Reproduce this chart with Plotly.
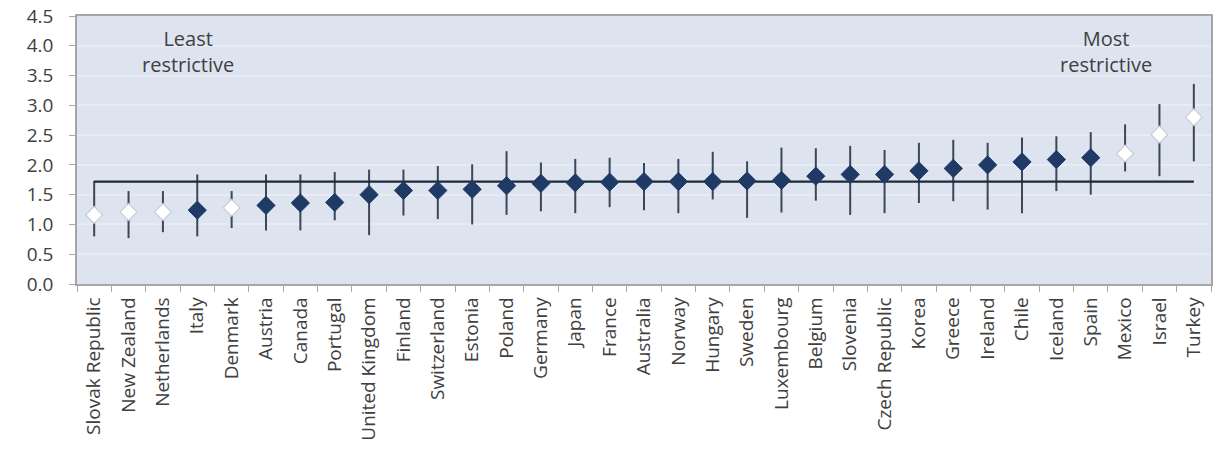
import plotly.graph_objects as go

# Countries ordered from least to most restrictive
countries = [
    "Slovak Republic", "New Zealand", "Netherlands", "Italy", "Denmark",
    "Austria", "Canada", "Portugal", "United Kingdom", "Finland",
    "Switzerland", "Estonia", "Poland", "Germany", "Japan", "France",
    "Australia", "Norway", "Hungary", "Sweden", "Luxembourg", "Belgium",
    "Slovenia", "Czech Republic", "Korea", "Greece", "Ireland", "Chile",
    "Iceland", "Spain", "Mexico", "Israel", "Turkey",
]
# Point estimate of the indicator
index_value = [
    1.16, 1.21, 1.21, 1.24, 1.28, 1.32, 1.36, 1.37, 1.50, 1.57,
    1.57, 1.59, 1.65, 1.69, 1.70, 1.71, 1.72, 1.72, 1.72, 1.73,
    1.74, 1.81, 1.84, 1.84, 1.90, 1.94, 2.00, 2.05, 2.09, 2.12,
    2.19, 2.51, 2.80,
]
# Upper and lower bounds of the confidence interval
upper_bound = [
    1.73, 1.56, 1.56, 1.84, 1.56, 1.84, 1.84, 1.88, 1.92, 1.92,
    1.98, 2.01, 2.23, 2.04, 2.10, 2.12, 2.03, 2.10, 2.22, 2.06,
    2.29, 2.28, 2.32, 2.25, 2.37, 2.42, 2.37, 2.46, 2.48, 2.55,
    2.68, 3.02, 3.36,
]
lower_bound = [
    0.80, 0.77, 0.87, 0.80, 0.94, 0.90, 0.90, 1.07, 0.82, 1.15,
    1.09, 1.00, 1.16, 1.22, 1.19, 1.29, 1.24, 1.19, 1.42, 1.11,
    1.20, 1.40, 1.16, 1.19, 1.36, 1.39, 1.25, 1.19, 1.56, 1.50,
    1.89, 1.81, 2.06,
]
# Countries whose difference from the average is not significant (hollow marker)
not_significant = [
    "Slovak Republic", "New Zealand", "Netherlands", "Denmark",
    "Mexico", "Israel", "Turkey",
]
oecd_average = 1.72
y_ticks = [0.0, 0.5, 1.0, 1.5, 2.0, 2.5, 3.0, 3.5, 4.0, 4.5]

FONT = "Open Sans"
TEXT = "#404040"
NAVY = "#1f3a64"
BAR = "#3b4656"

fig = go.Figure()

# Confidence interval whiskers
for c, lo, hi in zip(countries, lower_bound, upper_bound):
    fig.add_trace(go.Scatter(
        x=[c, c], y=[lo, hi], mode="lines",
        line=dict(color=BAR, width=2), hoverinfo="skip", showlegend=False,
    ))

# Average line across all countries
fig.add_trace(go.Scatter(
    x=[countries[0], countries[-1]], y=[oecd_average, oecd_average],
    mode="lines", line=dict(color="#1e2a38", width=2.2),
    hoverinfo="skip", showlegend=False,
))

sig_x = [c for c in countries if c not in not_significant]
sig_y = [v for c, v in zip(countries, index_value) if c not in not_significant]
ns_x = [c for c in countries if c in not_significant]
ns_y = [v for c, v in zip(countries, index_value) if c in not_significant]

fig.add_trace(go.Scatter(
    x=sig_x, y=sig_y, mode="markers",
    marker=dict(symbol="diamond", size=14, color=NAVY,
                line=dict(color=NAVY, width=1)),
    showlegend=False,
))
fig.add_trace(go.Scatter(
    x=ns_x, y=ns_y, mode="markers",
    marker=dict(symbol="diamond", size=13, color="white",
                line=dict(color="#c8ced8", width=1.2)),
    showlegend=False,
))

fig.add_annotation(x=2.73, y=3.91, xref="x", yref="y", text="Least<br>restrictive",
                   showarrow=False, font=dict(family=FONT, size=20, color=TEXT),
                   align="center")
fig.add_annotation(x=29.45, y=3.91, xref="x", yref="y", text="Most<br>restrictive",
                   showarrow=False, font=dict(family=FONT, size=20, color=TEXT),
                   align="center")

fig.update_layout(
    width=1216, height=452,
    margin=dict(l=77, r=3, t=16, b=168),
    paper_bgcolor="white",
    plot_bgcolor="#dde4f0",
    font=dict(family=FONT, color=TEXT),
)
fig.update_xaxes(
    type="category", categoryorder="array", categoryarray=countries,
    range=[-0.5, len(countries) - 0.5],
    tickangle=-90, tickfont=dict(family=FONT, size=19, color=TEXT),
    showgrid=False, showline=True, linecolor="#a6a6a6", linewidth=1.5,
    mirror=True, ticks="outside", ticklen=6, tickcolor="#a6a6a6",
    tickson="boundaries", zeroline=False, ticklabelstandoff=4,
)
fig.update_yaxes(
    range=[0, 4.5], tickvals=y_ticks, tickformat=".1f",
    tickfont=dict(family=FONT, size=19, color=TEXT),
    showgrid=True, gridcolor="#e6ebf5", gridwidth=1.5,
    showline=True, linecolor="#a6a6a6", linewidth=1.5, mirror=True,
    ticks="outside", ticklen=6, tickcolor="#a6a6a6", zeroline=False,
    ticklabelstandoff=12,
)

fig.write_html("out.html")
